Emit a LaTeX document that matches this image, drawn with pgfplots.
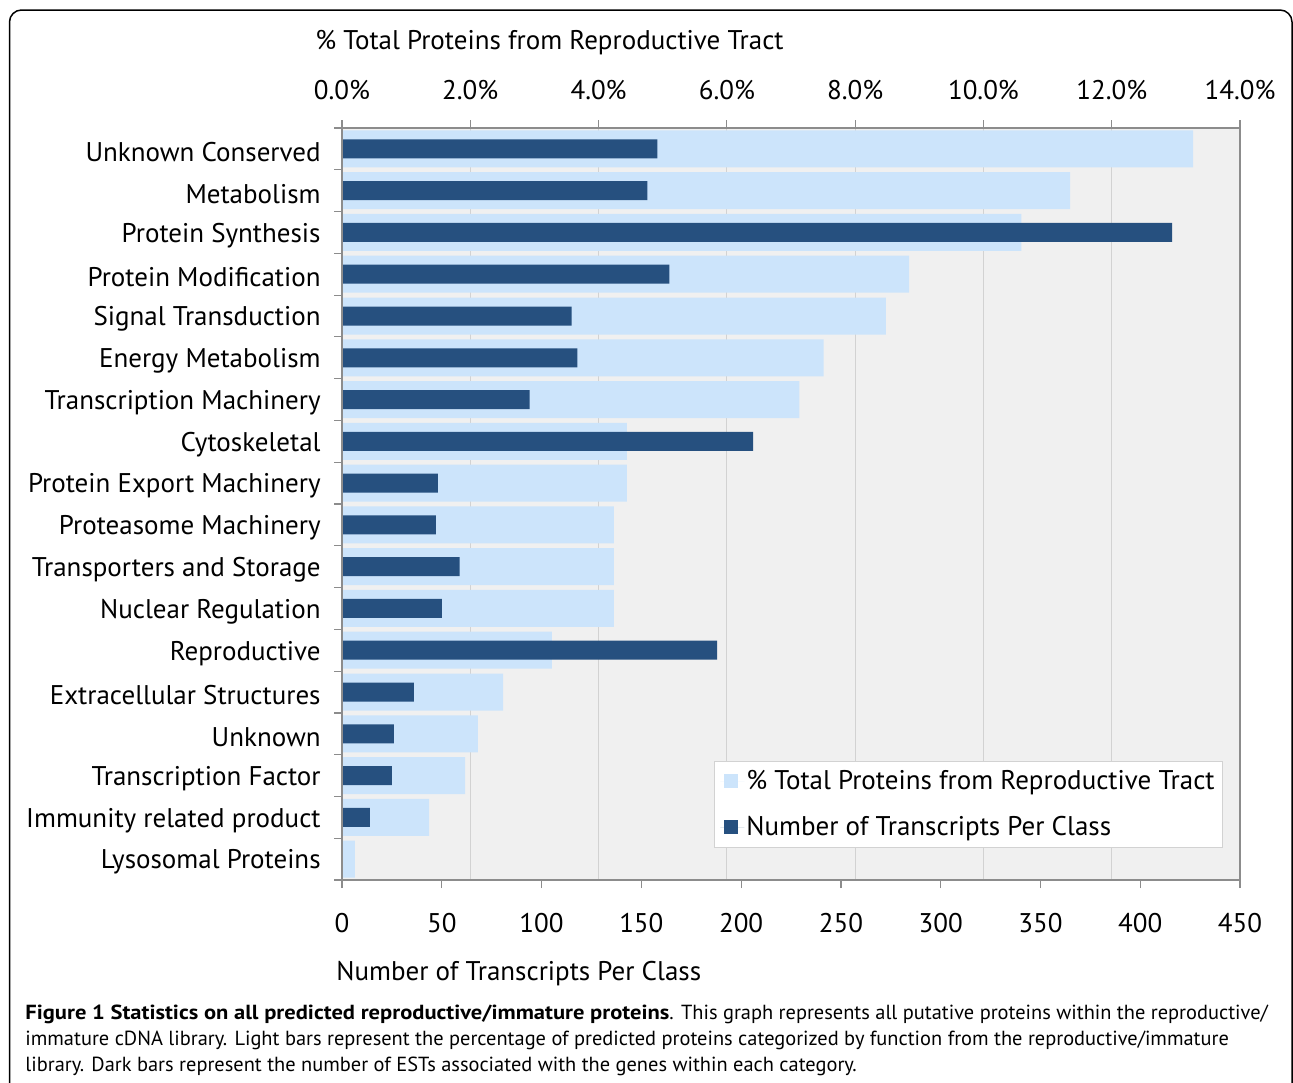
\documentclass[border=0pt]{standalone}
\usepackage{fontspec}
\setmainfont{PT Sans}
\usepackage{pgfplots}
\usepackage{pgfplotstable}
\pgfplotsset{compat=1.18}

\definecolor{lightbar}{HTML}{CCE4FB}
\definecolor{darkbar}{HTML}{26507F}
\definecolor{bgc}{HTML}{F0F0F0}
\definecolor{gridc}{HTML}{D2D2D2}
\definecolor{framec}{HTML}{8C8C8C}

\newcommand{\cf}{\fontsize{13.5}{16}\selectfont}
\newcommand{\ylf}{\fontsize{13.5}{16}\selectfont}
\newcommand{\capf}{\fontsize{10.2}{13}\selectfont}

% y = 17 for the top category, 0 for the bottom one
\pgfplotstableread{
y pct num
17 13.27 158
16 11.35 153
15 10.59 416
14 8.84 164
13 8.48 115
12 7.51 118
11 7.13 94
10 4.44 206
9 4.44 48
8 4.24 47
7 4.24 59
6 4.24 50
5 3.27 188
4 2.51 36
3 2.12 26
2 1.92 25
1 1.36 14
0 0.20 0
}\datatable

\begin{document}
\begin{tikzpicture}
\useasboundingbox (0,0) rectangle (646.5pt,-541pt);
\draw[black, line width=0.75pt, rounded corners=6pt] (4.75pt,-5pt) rectangle (646pt,-580pt);

% light bars, top axis
\begin{axis}[
  at={(171pt,-440pt)}, anchor=south west,
  scale only axis, width=449pt, height=376pt,
  xmin=0, xmax=14, ymin=-0.5, ymax=17.5,
  axis background/.style={fill=bgc},
  axis line style={framec, line width=1pt},
  xbar, bar width=18.5pt, bar shift=0pt,
  xtick={0,2,...,14},
  xticklabels={0.0\%,2.0\%,4.0\%,6.0\%,8.0\%,10.0\%,12.0\%,14.0\%},
  xtick pos=upper, xticklabel pos=upper,
  xmajorgrids, grid style={gridc, line width=0.6pt},
  tick align=outside, major tick length=4pt,
  major x tick style={framec, line width=0.6pt},
  xticklabel style={font=\cf, anchor=base, yshift=10.5pt},
  ytick={0,...,17},
  yticklabels={Lysosomal Proteins, Immunity related product, Transcription Factor, Unknown, Extracellular Structures, Reproductive, Nuclear Regulation, Transporters and Storage, Proteasome Machinery, Protein Export Machinery, Cytoskeletal, Transcription Machinery, Energy Metabolism, Signal Transduction, Protein Modification, Protein Synthesis, Metabolism, Unknown Conserved},
  ytick pos=left,
  major y tick style={draw=none},
  minor ytick={-0.5,0.5,...,17.5},
  minor tick length=4pt,
  minor y tick style={framec, line width=0.6pt},
  yticklabel style={font=\ylf, anchor=east, inner xsep=0pt, xshift=-6.5pt, yshift=-1.5pt},
]
\addplot[fill=lightbar, draw=none] table[x=pct, y=y] {\datatable};
\end{axis}

% dark bars, bottom axis
\begin{axis}[
  at={(171pt,-440pt)}, anchor=south west,
  scale only axis, width=449pt, height=376pt,
  xmin=0, xmax=450, ymin=-0.5, ymax=17.5,
  axis x line*=bottom, axis y line=none,
  axis line style={framec, line width=1pt},
  xbar, bar width=9.5pt, bar shift=0pt,
  xtick={0,50,...,450},
  xticklabels={0,50,100,150,200,250,300,350,400,450},
  tick align=outside, major tick length=4pt,
  major x tick style={framec, line width=0.6pt},
  xticklabel style={font=\cf, anchor=base, yshift=-22pt},
  legend style={at={(0.981,0.0426)}, anchor=south east, draw=gridc, fill=white,
    font=\cf, inner xsep=3pt, inner ysep=2pt, row sep=7pt,
    nodes={inner xsep=1pt, inner ysep=2.5pt}},
  legend cell align=left,
  legend image code/.code={\fill[#1] (0pt,-3.5pt) rectangle (7pt,3.5pt); \path (-2pt,0pt) -- (10pt,0pt);},
]
\addlegendimage{fill=lightbar, draw=none}
\addlegendentry{\% Total Proteins from Reproductive Tract}
\addplot[fill=darkbar, draw=none] table[x=num, y=y] {\datatable};
\addlegendentry{Number of Transcripts Per Class}
\draw[framec, line width=1pt] (rel axis cs:0,0) rectangle (rel axis cs:1,1);
\end{axis}

\node[anchor=base west, inner sep=0, font=\cf] at (157.5pt,-24.5pt) {\% Total Proteins from Reproductive Tract};
\node[anchor=base west, inner sep=0, font=\cf] at (168pt,-490pt) {Number of Transcripts Per Class};

\node[anchor=base west, inner sep=0, font=\capf] at (12.5pt,-509.5pt) {\scalebox{1.105}[1]{\textbf{Figure 1 Statistics on all predicted reproductive/immature proteins}}. This graph represents all putative proteins within the reproductive/};
\node[anchor=base west, inner sep=0, font=\capf] at (12.5pt,-522.5pt) {immature cDNA library. Light bars represent the percentage of predicted proteins categorized by function from the reproductive/immature};
\node[anchor=base west, inner sep=0, font=\capf] at (12.5pt,-535.5pt) {library. Dark bars represent the number of ESTs associated with the genes within each category.};
\end{tikzpicture}
\end{document}
